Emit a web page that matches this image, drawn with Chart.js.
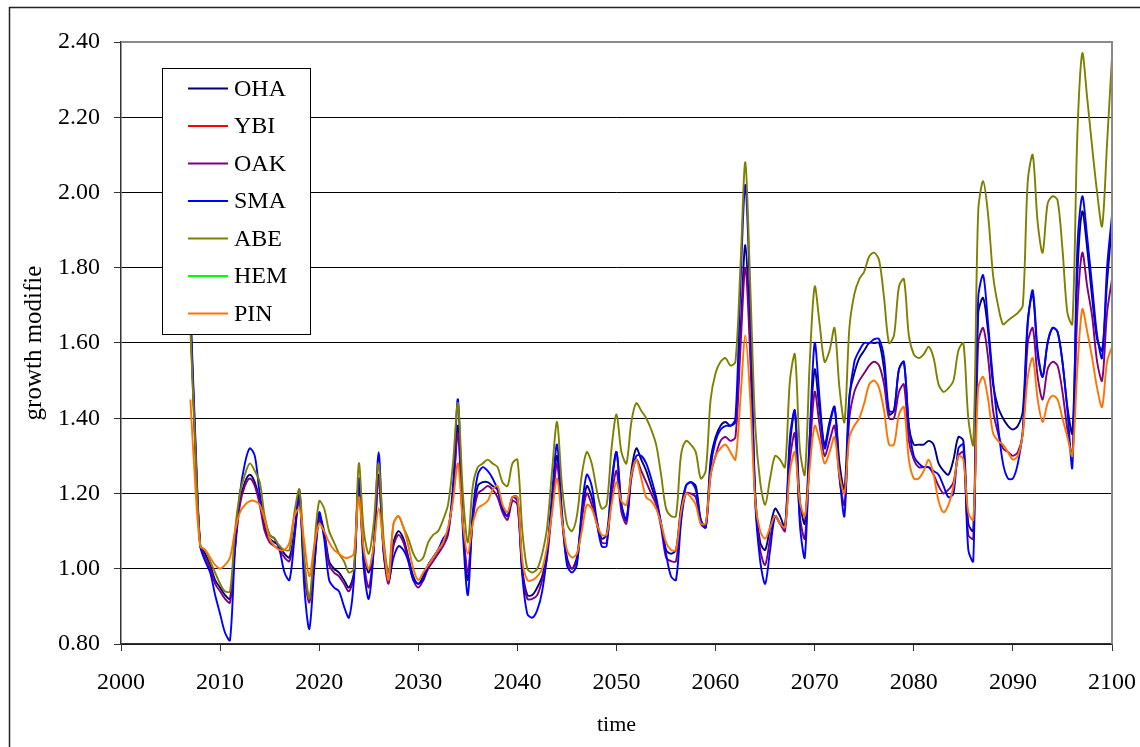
<!DOCTYPE html>
<html>
<head>
<meta charset="utf-8">
<script src="https://cdn.jsdelivr.net/npm/chart.js@4"></script>
<style>
  html, body { margin: 0; padding: 0; background: #fff; }
  #wrap { width: 1140px; height: 747px; }
</style>
</head>
<body>
<div id="wrap"><canvas id="growthChart" width="1140" height="747"></canvas></div>
<script>
// sample grid: half-year steps from 2007 to 2100
const anos = Array.from({length: (2100 - 2007) * 2 + 1}, (_, i) => 2007 + i * 0.5);

// growth modifier per species (10 values = 5 years per row)
const oha = [
  1.68, 1.33, 1.06, 1.04, 1.01, 0.97, 0.95, 0.93, 0.92, 1.06,
  1.18, 1.23, 1.25, 1.23, 1.18, 1.11, 1.08, 1.07, 1.06, 1.04,
  1.03, 1.10, 1.20, 1.00, 0.92, 1.02, 1.14, 1.10, 1.02, 1.00,
  0.99, 0.97, 0.95, 0.99, 1.24, 1.04, 0.99, 1.06, 1.25, 1.05,
  0.97, 1.07, 1.10, 1.08, 1.03, 0.98, 0.96, 0.98, 1.01, 1.03,
  1.05, 1.07, 1.10, 1.20, 1.38, 1.12, 0.97, 1.14, 1.22, 1.23,
  1.23, 1.22, 1.21, 1.16, 1.14, 1.19, 1.19, 1.00, 0.93, 0.93,
  0.95, 0.98, 1.04, 1.18, 1.30, 1.14, 1.03, 1.00, 1.03, 1.14,
  1.22, 1.19, 1.13, 1.08, 1.09, 1.22, 1.31, 1.17, 1.13, 1.26,
  1.32, 1.29, 1.26, 1.22, 1.18, 1.12, 1.05, 1.04, 1.05, 1.16,
  1.22, 1.23, 1.22, 1.13, 1.11, 1.29, 1.35, 1.38, 1.39, 1.38,
  1.39, 1.62, 1.86, 1.60, 1.20, 1.07, 1.05, 1.11, 1.16, 1.14,
  1.11, 1.33, 1.42, 1.18, 1.12, 1.35, 1.53, 1.42, 1.33, 1.39,
  1.43, 1.28, 1.21, 1.46, 1.52, 1.56, 1.58, 1.60, 1.60, 1.60,
  1.53, 1.41, 1.42, 1.53, 1.55, 1.38, 1.33, 1.33, 1.33, 1.34,
  1.33, 1.28, 1.26, 1.25, 1.29, 1.35, 1.34, 1.12, 1.10, 1.68,
  1.72, 1.63, 1.49, 1.43, 1.40, 1.38, 1.37, 1.38, 1.42, 1.66,
  1.73, 1.57, 1.51, 1.60, 1.64, 1.63, 1.55, 1.43, 1.36, 1.78,
  1.95, 1.85, 1.72, 1.61, 1.58, 1.76, 1.92
];
const ybi = []; // in the legend, no line visible
const oak = [
  1.66, 1.32, 1.06, 1.03, 1.00, 0.96, 0.94, 0.92, 0.91, 1.05,
  1.17, 1.22, 1.24, 1.22, 1.17, 1.10, 1.07, 1.06, 1.05, 1.03,
  1.02, 1.09, 1.19, 0.99, 0.91, 1.01, 1.13, 1.09, 1.01, 0.99,
  0.98, 0.96, 0.94, 0.98, 1.23, 1.02, 0.95, 1.05, 1.24, 1.04,
  0.96, 1.06, 1.09, 1.07, 1.02, 0.97, 0.95, 0.97, 1.00, 1.02,
  1.04, 1.06, 1.09, 1.20, 1.36, 1.12, 0.99, 1.13, 1.20, 1.21,
  1.22, 1.21, 1.19, 1.15, 1.13, 1.18, 1.17, 0.99, 0.92, 0.92,
  0.93, 0.97, 1.03, 1.16, 1.28, 1.13, 1.02, 1.00, 1.02, 1.13,
  1.20, 1.17, 1.12, 1.07, 1.07, 1.19, 1.26, 1.15, 1.12, 1.24,
  1.29, 1.26, 1.23, 1.20, 1.17, 1.11, 1.03, 1.02, 1.02, 1.13,
  1.20, 1.20, 1.19, 1.12, 1.11, 1.25, 1.30, 1.34, 1.35, 1.34,
  1.35, 1.58, 1.80, 1.56, 1.18, 1.05, 1.01, 1.08, 1.14, 1.12,
  1.10, 1.29, 1.36, 1.14, 1.08, 1.30, 1.47, 1.38, 1.30, 1.34,
  1.38, 1.24, 1.17, 1.40, 1.47, 1.50, 1.52, 1.54, 1.55, 1.54,
  1.49, 1.40, 1.40, 1.47, 1.49, 1.34, 1.29, 1.27, 1.27, 1.27,
  1.25, 1.22, 1.20, 1.21, 1.23, 1.30, 1.31, 1.09, 1.08, 1.60,
  1.64, 1.56, 1.42, 1.36, 1.32, 1.31, 1.30, 1.31, 1.36, 1.60,
  1.64, 1.51, 1.45, 1.53, 1.55, 1.54, 1.47, 1.37, 1.30, 1.68,
  1.84, 1.75, 1.67, 1.55, 1.50, 1.68, 1.77
];
const sma = [
  1.70, 1.35, 1.06, 1.02, 0.99, 0.93, 0.88, 0.83, 0.81, 1.05,
  1.20, 1.28, 1.32, 1.30, 1.20, 1.13, 1.09, 1.08, 1.05, 0.99,
  0.97, 1.08, 1.21, 0.95, 0.84, 1.00, 1.15, 1.08, 0.97, 0.95,
  0.94, 0.90, 0.87, 0.97, 1.24, 1.00, 0.92, 1.05, 1.31, 1.05,
  0.97, 1.03, 1.06, 1.05, 1.02, 0.97, 0.96, 0.97, 1.01, 1.03,
  1.05, 1.08, 1.10, 1.22, 1.45, 1.10, 0.93, 1.15, 1.25, 1.27,
  1.26, 1.24, 1.21, 1.16, 1.14, 1.19, 1.18, 0.98, 0.88, 0.87,
  0.89, 0.94, 1.04, 1.20, 1.33, 1.15, 1.01, 0.99, 1.01, 1.16,
  1.25, 1.22, 1.13, 1.06, 1.06, 1.23, 1.31, 1.17, 1.13, 1.25,
  1.30, 1.30, 1.28, 1.24, 1.19, 1.12, 1.04, 0.98, 0.97, 1.12,
  1.22, 1.23, 1.21, 1.13, 1.11, 1.27, 1.34, 1.37, 1.38, 1.38,
  1.40, 1.75, 2.02, 1.70, 1.18, 1.02, 0.96, 1.05, 1.14, 1.12,
  1.11, 1.35, 1.42, 1.12, 1.03, 1.35, 1.60, 1.45, 1.32, 1.38,
  1.43, 1.25, 1.14, 1.45, 1.55, 1.58, 1.60, 1.60, 1.61, 1.61,
  1.56, 1.42, 1.42, 1.53, 1.55, 1.38, 1.30, 1.28, 1.27, 1.27,
  1.26, 1.25, 1.22, 1.19, 1.20, 1.32, 1.33, 1.05, 1.02, 1.72,
  1.78, 1.65, 1.50, 1.38, 1.28, 1.24, 1.24, 1.28, 1.37, 1.65,
  1.74, 1.58, 1.51, 1.60, 1.64, 1.63, 1.55, 1.42, 1.27, 1.85,
  1.99, 1.88, 1.75, 1.62, 1.56, 1.80, 1.94
];
const abe = [
  1.64, 1.32, 1.06, 1.05, 1.02, 0.99, 0.96, 0.94, 0.94, 1.10,
  1.20, 1.25, 1.28, 1.26, 1.23, 1.14, 1.09, 1.08, 1.06, 1.05,
  1.05, 1.15, 1.21, 1.03, 0.92, 1.06, 1.18, 1.16, 1.10, 1.07,
  1.04, 1.02, 0.99, 1.00, 1.28, 1.10, 1.04, 1.12, 1.28, 1.08,
  0.99, 1.12, 1.14, 1.11, 1.08, 1.04, 1.02, 1.03, 1.07, 1.09,
  1.10, 1.13, 1.17, 1.28, 1.44, 1.20, 1.07, 1.22, 1.27, 1.28,
  1.29, 1.28, 1.27, 1.23, 1.22, 1.28, 1.29, 1.10, 1.00, 0.99,
  1.00, 1.04, 1.11, 1.26, 1.39, 1.22, 1.12, 1.10, 1.14, 1.25,
  1.31, 1.28, 1.21, 1.16, 1.17, 1.32, 1.41, 1.31, 1.28, 1.39,
  1.44, 1.42, 1.40, 1.37, 1.33, 1.25, 1.16, 1.14, 1.14, 1.30,
  1.34, 1.33, 1.31, 1.24, 1.26, 1.45, 1.52, 1.55, 1.56, 1.54,
  1.55, 1.80, 2.08, 1.75, 1.38, 1.23, 1.17, 1.24, 1.30, 1.29,
  1.27, 1.50, 1.57, 1.32, 1.25, 1.55, 1.75, 1.65, 1.55, 1.58,
  1.64, 1.48, 1.39, 1.64, 1.73, 1.77, 1.79, 1.83, 1.84, 1.82,
  1.72, 1.60, 1.62, 1.75, 1.77, 1.62, 1.57, 1.56, 1.57, 1.59,
  1.56, 1.49, 1.47, 1.48, 1.50, 1.58, 1.60, 1.40, 1.33, 1.95,
  2.03, 1.94, 1.78, 1.70, 1.65, 1.66, 1.67, 1.68, 1.70, 2.03,
  2.10, 1.92, 1.84, 1.97, 1.99, 1.98, 1.85, 1.68, 1.65, 2.15,
  2.37, 2.25, 2.12, 2.00, 1.91, 2.13, 2.36
];
const hem = []; // in the legend, no line visible
const pin = [
  1.45, 1.22, 1.06, 1.05, 1.03, 1.01, 1.00, 1.01, 1.03, 1.10,
  1.15, 1.17, 1.18, 1.18, 1.17, 1.13, 1.08, 1.06, 1.05, 1.05,
  1.07, 1.14, 1.16, 1.07, 0.98, 1.06, 1.12, 1.10, 1.07, 1.05,
  1.04, 1.03, 1.03, 1.04, 1.19, 1.05, 1.00, 1.06, 1.16, 1.06,
  0.97, 1.12, 1.14, 1.11, 1.06, 1.00, 0.97, 0.99, 1.01, 1.03,
  1.05, 1.07, 1.11, 1.18, 1.28, 1.12, 1.04, 1.12, 1.16, 1.17,
  1.18, 1.21, 1.22, 1.17, 1.15, 1.19, 1.19, 1.02, 0.97, 0.97,
  0.98, 1.00, 1.06, 1.15, 1.24, 1.13, 1.05, 1.03, 1.04, 1.10,
  1.17, 1.16, 1.12, 1.09, 1.09, 1.17, 1.23, 1.18, 1.17, 1.25,
  1.29, 1.24, 1.19, 1.18, 1.16, 1.12, 1.07, 1.05, 1.05, 1.15,
  1.20, 1.19, 1.17, 1.12, 1.12, 1.25, 1.30, 1.32, 1.33, 1.31,
  1.29, 1.45, 1.62, 1.45, 1.18, 1.10, 1.08, 1.11, 1.14, 1.12,
  1.11, 1.26, 1.31, 1.18, 1.14, 1.27, 1.38, 1.34, 1.28, 1.31,
  1.35, 1.25, 1.20, 1.35, 1.38, 1.40, 1.44, 1.49, 1.50, 1.48,
  1.42, 1.33, 1.33, 1.41, 1.43, 1.29, 1.24, 1.24, 1.26, 1.29,
  1.25, 1.18, 1.15, 1.17, 1.22, 1.30, 1.29, 1.15, 1.13, 1.48,
  1.51, 1.45, 1.36, 1.34, 1.33, 1.31, 1.29, 1.30, 1.36, 1.51,
  1.56, 1.45, 1.39, 1.44, 1.46, 1.45, 1.40, 1.35, 1.30, 1.53,
  1.69, 1.63, 1.56, 1.48, 1.43, 1.55, 1.59
];

const especies = ['OHA', 'YBI', 'OAK', 'SMA', 'ABE', 'HEM', 'PIN'];
const valores  = [oha, ybi, oak, sma, abe, hem, pin];
const cores    = ['#000080', '#ff0000', '#800080', '#0000ff', '#808000', '#00ff00', '#ff7300'];

const serif = '"Liberation Serif", "Times New Roman", serif';

// white page, outer frame, grey plot border
const moldura = {
  id: 'moldura',
  beforeDraw(chart) {
    const c = chart.ctx;
    c.save();
    c.fillStyle = '#fff';
    c.fillRect(0, 0, chart.width, chart.height);
    c.strokeStyle = '#222';
    c.lineWidth = 1.5;
    c.beginPath();
    c.moveTo(9.5, chart.height);
    c.lineTo(9.5, 7.5);
    c.lineTo(chart.width, 7.5);
    c.stroke();
    c.restore();
  },
  afterDatasetsDraw(chart) {
    const a = chart.chartArea, c = chart.ctx;
    c.save();
    c.strokeStyle = '#8a8a8a';
    c.lineWidth = 2;
    c.beginPath();
    c.moveTo(a.left, a.top);
    c.lineTo(a.right, a.top);
    c.lineTo(a.right, a.bottom);
    c.stroke();
    c.restore();
  }
};

// boxed legend inside the plot, like the spreadsheet one
const legendaCaixa = {
  id: 'legendaCaixa',
  afterDraw(chart) {
    const c = chart.ctx;
    c.save();
    c.fillStyle = '#fff';
    c.fillRect(162, 68, 148, 266);
    c.strokeStyle = '#000';
    c.lineWidth = 1;
    c.strokeRect(162.5, 68.5, 148, 266);
    c.font = '24px ' + serif;
    c.textBaseline = 'middle';
    chart.data.datasets.forEach((ds, i) => {
      const y = 88.5 + i * 37.5;
      c.strokeStyle = ds.borderColor;
      c.lineWidth = 2;
      c.beginPath();
      c.moveTo(188, y);
      c.lineTo(228, y);
      c.stroke();
      c.fillStyle = '#000';
      c.fillText(ds.label, 234, y + 1);
    });
    c.restore();
  }
};

new Chart(document.getElementById('growthChart'), {
  type: 'line',
  data: {
    datasets: especies.map((nome, k) => ({
      label: nome,
      data: valores[k].map((v, i) => ({x: anos[i], y: v})),
      borderColor: cores[k],
      backgroundColor: cores[k],
      borderWidth: 1.9,
      pointRadius: 0,
      tension: 0.3,
      fill: false,
      order: especies.length - 1 - k
    }))
  },
  options: {
    responsive: false,
    animation: false,
    devicePixelRatio: 1,
    layout: {padding: {top: 42, right: 28, bottom: 0, left: 0}},
    plugins: {legend: {display: false}, tooltip: {enabled: false}},
    scales: {
      x: {
        type: 'linear',
        min: 2000, max: 2100,
        // fixed plot box: no extra room for the end labels
        afterFit: s => { s.height = 103; s.paddingLeft = 0; s.paddingRight = 0; },
        ticks: {
          stepSize: 10,
          padding: 17,
          color: '#000',
          font: {family: serif, size: 24},
          callback: v => String(v)
        },
        grid: {drawOnChartArea: false, drawTicks: true, tickLength: 7, tickColor: '#333'},
        border: {color: '#333', width: 1.5},
        title: {display: true, text: 'time', color: '#000', font: {family: serif, size: 22}, padding: {top: 0, bottom: 9}}
      },
      y: {
        min: 0.8, max: 2.4,
        afterFit: s => { s.width = 121; s.paddingTop = 0; s.paddingBottom = 0; },
        ticks: {
          stepSize: 0.2,
          padding: 14,
          color: '#000',
          font: {family: serif, size: 24},
          callback: v => v.toFixed(2)
        },
        grid: {
          color: ctx => (ctx.tick && Math.abs(ctx.tick.value - 2.4) < 1e-6) ? 'rgba(0,0,0,0)' : '#000',
          lineWidth: 1,
          tickLength: 7,
          tickColor: '#333'
        },
        border: {color: '#333', width: 1.5},
        title: {display: true, text: 'growth modifie', color: '#000', font: {family: serif, size: 25}, padding: {top: 19, bottom: 0}}
      }
    }
  },
  plugins: [moldura, legendaCaixa]
});
</script>
</body>
</html>
